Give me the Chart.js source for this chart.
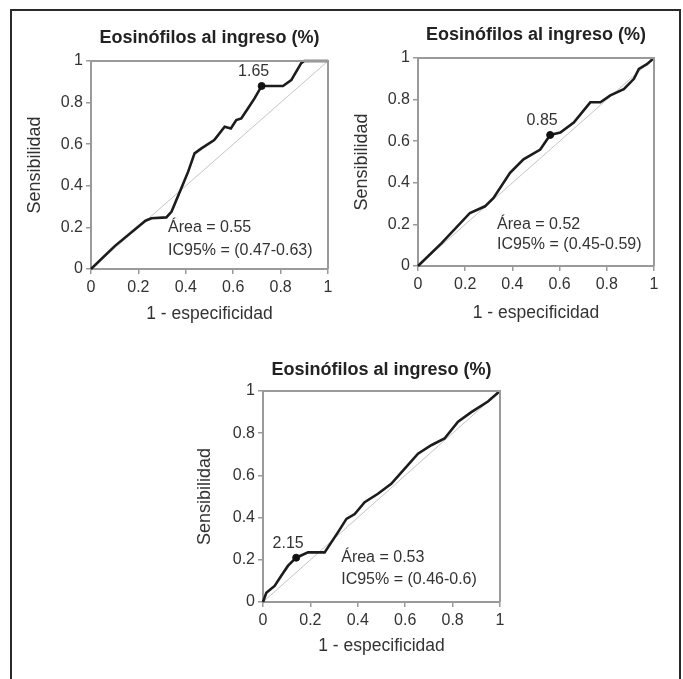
<!DOCTYPE html>
<html lang="es">
<head>
    <meta charset="UTF-8">
    <title>Curvas ROC - Eosinófilos al ingreso</title>
    <script src="https://cdn.jsdelivr.net/npm/chart.js"></script>
    <style>
        body {
            margin: 0;
            background: #fff;
            font-family: "Liberation Sans", Arial, sans-serif;
        }
        .marco {
            position: absolute;
            left: 10px;
            top: 9px;
            width: 667px;
            height: 720px;
            border: 2px solid #2a2a2a;
            border-bottom: none;
        }
        canvas {
            position: absolute;
        }
    </style>
</head>
<body>
    <div class="marco"></div>
    <canvas id="rocA" width="330" height="305" style="left:20px; top:20px;"></canvas>
    <canvas id="rocB" width="330" height="305" style="left:347px; top:20px;"></canvas>
    <canvas id="rocC" width="330" height="305" style="left:192px; top:352px;"></canvas>

    <script>
        // datos de las curvas (1 - especificidad, sensibilidad)
        const titulo = 'Eosinófilos al ingreso (%)';
        const tickLabels = ['0', '0.2', '0.4', '0.6', '0.8', '1'];
        const tickValues = [0, 0.2, 0.4, 0.6, 0.8, 1];
        const diagX = [0, 1];

        const fprA = [0, 0.1, 0.23, 0.255, 0.318, 0.34, 0.381, 0.41, 0.437, 0.466, 0.52, 0.564, 0.59, 0.613, 0.634, 0.662, 0.69, 0.72, 0.81, 0.845, 0.887, 0.90, 1];
        const tprA = [0, 0.11, 0.232, 0.244, 0.248, 0.276, 0.388, 0.468, 0.556, 0.58, 0.62, 0.684, 0.676, 0.716, 0.724, 0.772, 0.82, 0.88, 0.88, 0.908, 0.99, 1, 1];
        const corteA = [0.72, 0.88];
        const corteLabelA = '1.65';
        const areaA = ['Área = 0.55', 'IC95% = (0.47-0.63)'];

        const fprB = [0, 0.1, 0.22, 0.284, 0.32, 0.39, 0.447, 0.518, 0.56, 0.603, 0.66, 0.73, 0.773, 0.815, 0.872, 0.915, 0.936, 0.97, 1];
        const tprB = [0, 0.11, 0.255, 0.287, 0.327, 0.448, 0.513, 0.56, 0.63, 0.642, 0.69, 0.787, 0.787, 0.82, 0.85, 0.9, 0.948, 0.97, 1];
        const corteB = [0.56, 0.63];
        const corteLabelB = '0.85';
        const areaB = ['Área = 0.52', 'IC95% = (0.45-0.59)'];

        const fprC = [0, 0.014, 0.049, 0.077, 0.105, 0.14, 0.19, 0.26, 0.316, 0.352, 0.387, 0.429, 0.485, 0.541, 0.598, 0.654, 0.71, 0.766, 0.823, 0.879, 0.949, 1];
        const tprC = [0, 0.044, 0.076, 0.124, 0.171, 0.21, 0.235, 0.235, 0.33, 0.394, 0.417, 0.473, 0.513, 0.56, 0.632, 0.703, 0.743, 0.775, 0.854, 0.90, 0.95, 1];
        const corteC = [0.14, 0.21];
        const corteLabelC = '2.15';
        const areaC = ['Área = 0.53', 'IC95% = (0.46-0.6)'];

        Chart.defaults.font.family = '"Liberation Sans", Arial, sans-serif';
        Chart.defaults.color = '#333';

        // título centrado sobre el área de trazado, recuadro y textos de área / punto de corte
        const rocExtras = {
            id: 'rocExtras',
            afterDatasetsDraw(chart, args, opts) {
                const { ctx, chartArea: a, scales: { x, y } } = chart;
                ctx.save();
                ctx.strokeStyle = '#9a9a9a';
                ctx.lineWidth = 2;
                ctx.beginPath();
                ctx.moveTo(a.left, a.top);
                ctx.lineTo(a.right, a.top);
                ctx.lineTo(a.right, a.bottom);
                ctx.stroke();

                ctx.fillStyle = '#222';
                ctx.font = 'bold 18px "Liberation Sans", Arial, sans-serif';
                ctx.textAlign = 'center';
                ctx.textBaseline = 'middle';
                ctx.fillText(titulo, (a.left + a.right) / 2, opts.tituloY);

                ctx.fillStyle = '#333';
                ctx.font = '16px "Liberation Sans", Arial, sans-serif';
                const px = x.getPixelForValue(opts.corte[0]);
                const py = y.getPixelForValue(opts.corte[1]);
                ctx.fillText(opts.corteLabel, px - 8, py - 14);

                ctx.textAlign = 'left';
                const tx = x.getPixelForValue(opts.textoX);
                opts.area.forEach((t, i) => {
                    ctx.fillText(t, tx, y.getPixelForValue(opts.textoY[i]));
                });
                ctx.restore();
            }
        };

        function rocChart(id, fpr, tpr, corte, corteLabel, area, lay) {
            const curva = fpr.map((v, i) => ({ x: v, y: tpr[i] }));
            const diag = diagX.map(v => ({ x: v, y: v }));
            return new Chart(document.getElementById(id), {
                type: 'scatter',
                data: {
                    datasets: [
                        {
                            data: [{ x: corte[0], y: corte[1] }],
                            pointRadius: 3.5,
                            pointBackgroundColor: '#111',
                            pointBorderColor: '#111',
                            showLine: false
                        },
                        {
                            data: curva,
                            showLine: true,
                            borderColor: '#1c1c1c',
                            borderWidth: 2.6,
                            pointRadius: 0,
                            clip: 4
                        },
                        {
                            data: diag,
                            showLine: true,
                            borderColor: '#c4c4c4',
                            borderWidth: 1,
                            pointRadius: 0
                        }
                    ]
                },
                options: {
                    responsive: false,
                    animation: false,
                    layout: { padding: { left: 0, right: lay.right, top: lay.top, bottom: 0 } },
                    plugins: {
                        legend: { display: false },
                        tooltip: { enabled: false },
                        title: { display: false },
                        rocExtras: {
                            tituloY: lay.tituloY,
                            corte: corte,
                            corteLabel: corteLabel,
                            area: area,
                            textoX: lay.textoX,
                            textoY: lay.textoY
                        }
                    },
                    scales: {
                        x: {
                            type: 'linear',
                            min: 0,
                            max: 1,
                            afterFit: s => { s.height = lay.xHeight; },
                            afterBuildTicks: s => { s.ticks = tickValues.map(v => ({ value: v })); },
                            ticks: {
                                padding: 4,
                                maxRotation: 0,
                                font: { size: 16 },
                                callback: (v, i) => tickLabels[i]
                            },
                            grid: { drawOnChartArea: false, tickLength: 5, color: '#9a9a9a', lineWidth: 1.5 },
                            border: { color: '#9a9a9a', width: 2 },
                            title: {
                                display: true,
                                text: '1 - especificidad',
                                font: { size: 17.5 },
                                padding: { top: 0, bottom: lay.xTitlePad }
                            }
                        },
                        y: {
                            type: 'linear',
                            min: 0,
                            max: 1,
                            afterFit: s => { s.width = 71; },
                            afterBuildTicks: s => { s.ticks = tickValues.map(v => ({ value: v })); },
                            ticks: {
                                padding: 3,
                                font: { size: 16 },
                                callback: (v, i) => tickLabels[i]
                            },
                            grid: { drawOnChartArea: false, tickLength: 5, color: '#9a9a9a', lineWidth: 1.5 },
                            border: { color: '#9a9a9a', width: 2 },
                            title: {
                                display: true,
                                text: 'Sensibilidad',
                                font: { size: 18 },
                                padding: { top: lay.yTitlePad, bottom: 0 }
                            }
                        }
                    }
                },
                plugins: [rocExtras]
            });
        }

        rocChart('rocA', fprA, tprA, corteA, corteLabelA, areaA, {
            right: 22, top: 41, tituloY: 18, xHeight: 56, xTitlePad: 0, yTitlePad: 4.5,
            textoX: 0.325, textoY: [0.197, 0.09]
        });
        rocChart('rocB', fprB, tprB, corteB, corteLabelB, areaB, {
            right: 23, top: 38, tituloY: 15, xHeight: 59, xTitlePad: 1.5, yTitlePad: 4.5,
            textoX: 0.335, textoY: [0.2, 0.105]
        });
        rocChart('rocC', fprC, tprC, corteC, corteLabelC, areaC, {
            right: 22, top: 39, tituloY: 18, xHeight: 55, xTitlePad: 0, yTitlePad: 2.5,
            textoX: 0.33, textoY: [0.21, 0.104]
        });
    </script>
</body>
</html>
